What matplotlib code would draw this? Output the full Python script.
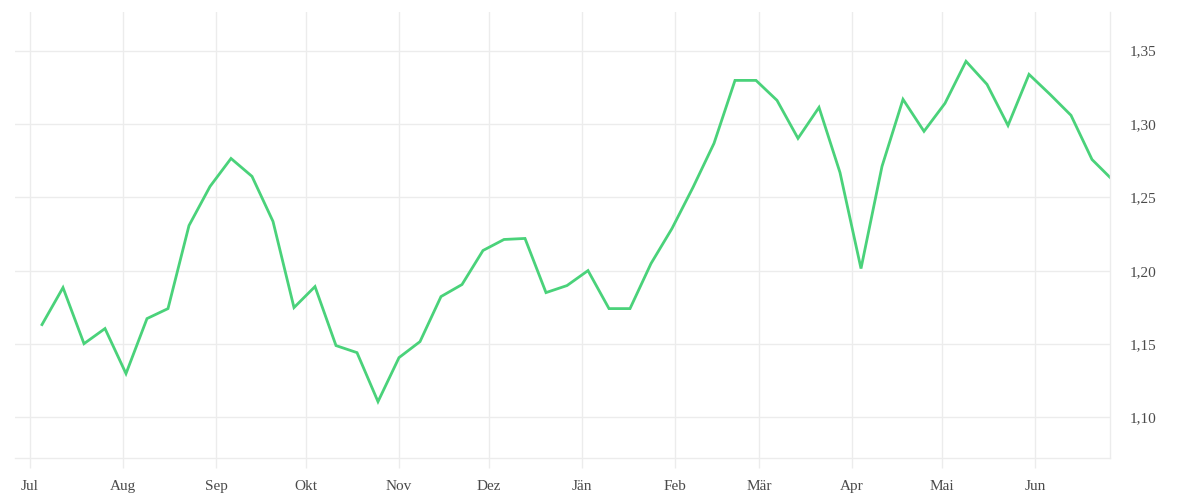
import matplotlib
matplotlib.use("Agg")
import matplotlib.pyplot as plt
import pandas as pd

# weekly values, Jul 2018 - Jun 2019
dates = list(pd.date_range("2018-07-05", periods=51, freq="7D")) + [pd.Timestamp("2019-06-26")]
values = [
    1.1633, 1.1885, 1.1503, 1.1606, 1.1299, 1.1674, 1.1742, 1.2308, 1.2574, 1.2765,
    1.2643, 1.2336, 1.1749, 1.1892, 1.1490, 1.1442, 1.1108, 1.1408, 1.1517, 1.1824,
    1.1906, 1.2138, 1.2213, 1.2220, 1.1851, 1.1899, 1.2001, 1.1742, 1.1742, 1.2049,
    1.2288, 1.2568, 1.2868, 1.3297, 1.3297, 1.3161, 1.2902, 1.3113, 1.2669, 1.2015,
    1.2711, 1.3168, 1.2950, 1.3141, 1.3427, 1.3270, 1.2990, 1.3338, 1.3202, 1.3059,
    1.2758, 1.2636,
]
month_labels = ["Jul", "Aug", "Sep", "Okt", "Nov", "Dez", "Jän", "Feb", "Mär", "Apr", "Mai", "Jun"]
month_ticks = pd.date_range("2018-07-01", periods=12, freq="MS")
y_ticks = [1.10, 1.15, 1.20, 1.25, 1.30, 1.35]

grid_col = "#ececec"
text_col = "#4a4a4a"
plt.rcParams["font.family"] = ["Liberation Serif", "DejaVu Serif"]

fig = plt.figure(figsize=(12, 5), dpi=100)
ax = fig.add_axes([0.0125, 0.084, 0.9125, 0.892])

ax.plot(dates, values, color="#4ad27a", linewidth=2.0, solid_joinstyle="miter")

ax.set_xlim(pd.Timestamp("2018-06-26"), pd.Timestamp("2019-06-26"))
ax.set_ylim(1.0724, 1.3763)

ax.set_xticks(month_ticks)
ax.set_xticklabels(month_labels)
ax.set_yticks(y_ticks)
ax.set_yticklabels([f"{v:.2f}".replace(".", ",") for v in y_ticks])

ax.grid(True, color=grid_col, linewidth=1)
ax.set_axisbelow(True)
for side in ["top", "left"]:
    ax.spines[side].set_visible(False)
for side in ["bottom", "right"]:
    ax.spines[side].set_color(grid_col)
    ax.spines[side].set_linewidth(1)

ax.tick_params(axis="x", length=7, color=grid_col, width=1, pad=9,
               labelsize=11, labelcolor=text_col)
ax.tick_params(axis="y", left=False, right=False, labelleft=False, labelright=True,
               pad=11, labelsize=11, labelcolor=text_col)

fig.savefig("out.png", dpi=100, facecolor="white")
